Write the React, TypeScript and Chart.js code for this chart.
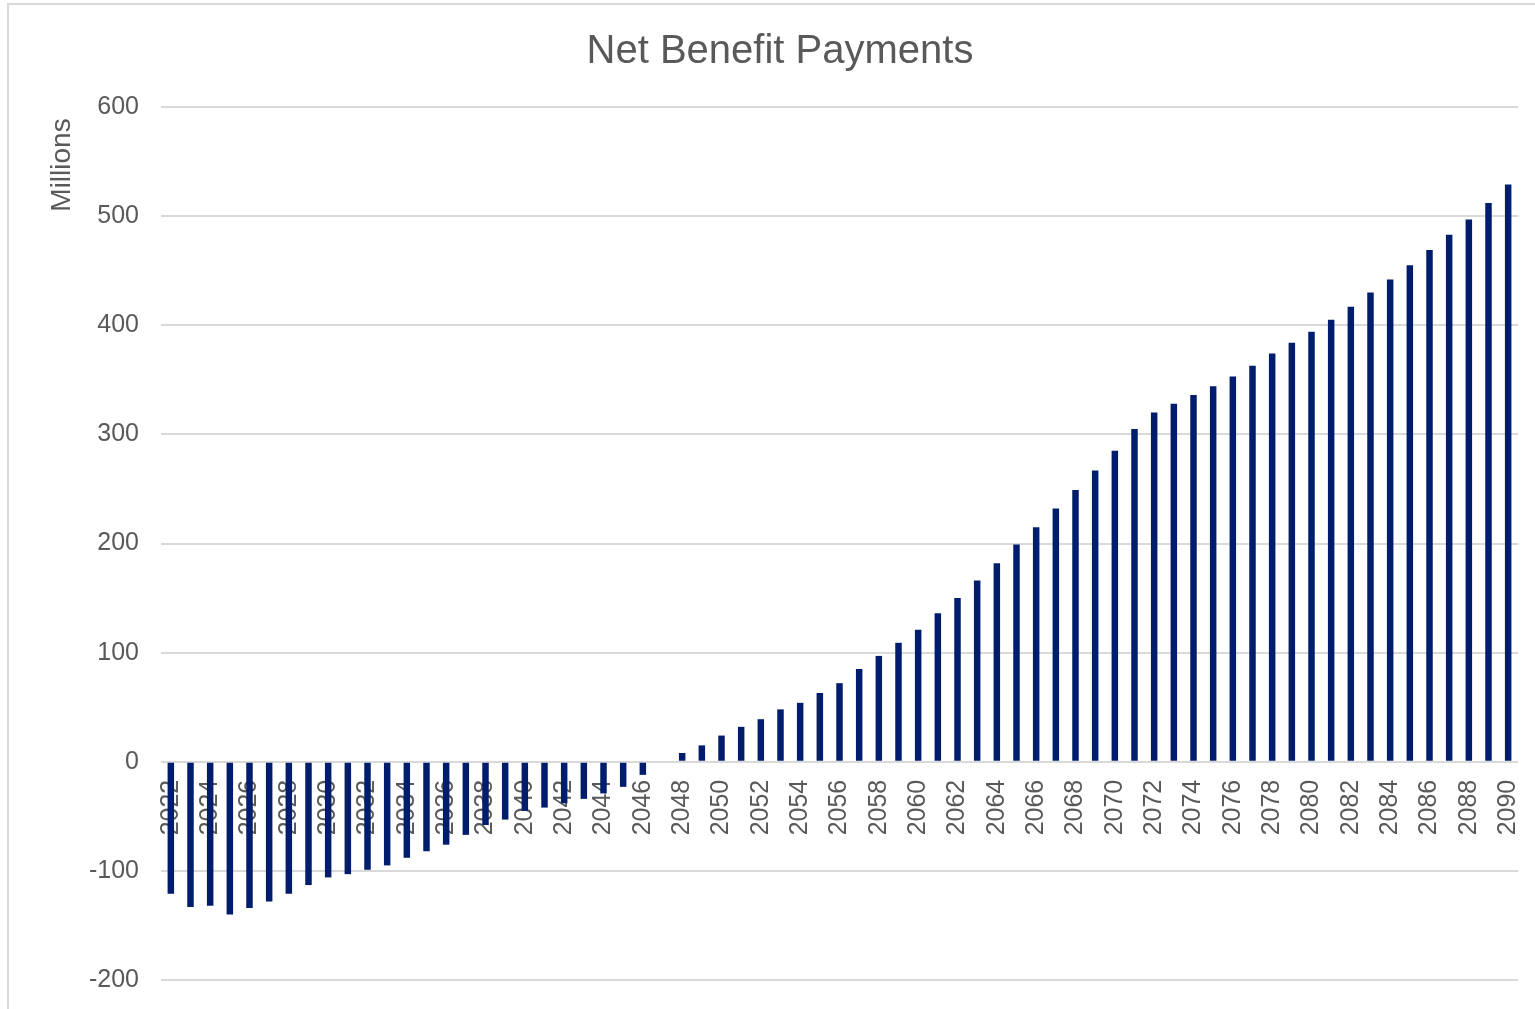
import React, { useEffect, useRef } from "react";
import { Chart, registerables } from "chart.js";

Chart.register(...registerables);

const CHART_TITLE = "Net Benefit Payments";
const Y_AXIS_TITLE = "Millions";

const YEARS = [
  "2022", "2023", "2024", "2025", "2026", "2027", "2028", "2029", "2030", "2031",
  "2032", "2033", "2034", "2035", "2036", "2037", "2038", "2039", "2040", "2041",
  "2042", "2043", "2044", "2045", "2046", "2047", "2048", "2049", "2050", "2051",
  "2052", "2053", "2054", "2055", "2056", "2057", "2058", "2059", "2060", "2061",
  "2062", "2063", "2064", "2065", "2066", "2067", "2068", "2069", "2070", "2071",
  "2072", "2073", "2074", "2075", "2076", "2077", "2078", "2079", "2080", "2081",
  "2082", "2083", "2084", "2085", "2086", "2087", "2088", "2089", "2090",
];

const NET_BENEFIT = [
  -121, -133, -132, -140, -134, -128, -121, -113, -106, -103,
  -99, -95, -88, -82, -76, -67, -58, -53, -45, -42,
  -38, -34, -29, -23, -12, 0, 8, 15, 24, 32,
  39, 48, 54, 63, 72, 85, 97, 109, 121, 136,
  150, 166, 182, 199, 215, 232, 249, 267, 285, 305,
  320, 328, 336, 344, 353, 363, 374, 384, 394, 405,
  417, 430, 442, 455, 469, 483, 497, 512, 529,
];

const Y_MIN = -200;
const Y_MAX = 600;
const Y_STEP = 100;

const FONT = "'Liberation Sans', Arial, sans-serif";
const TEXT_COLOR = "#595959";
const GRID_COLOR = "#d9d9d9";
const BAR_COLOR = "#001c6c";

const CANVAS_W = 1541;
const CANVAS_H = 1026;

const yTitlePlugin = {
  id: "yTitlePlugin",
  afterDraw(chart: any) {
    const { ctx } = chart;
    ctx.save();
    ctx.translate(53, 160);
    ctx.rotate(-Math.PI / 2);
    ctx.font = `28px ${FONT}`;
    ctx.fillStyle = TEXT_COLOR;
    ctx.textAlign = "center";
    ctx.textBaseline = "middle";
    ctx.fillText(Y_AXIS_TITLE, 0, 0);
    ctx.restore();
  },
};

const chartTitlePlugin = {
  id: "chartTitlePlugin",
  afterDraw(chart: any) {
    const { ctx } = chart;
    ctx.save();
    ctx.font = `40px ${FONT}`;
    ctx.fillStyle = TEXT_COLOR;
    ctx.textAlign = "center";
    ctx.textBaseline = "alphabetic";
    ctx.fillText(CHART_TITLE, 771, 58);
    ctx.restore();
  },
};

export default function App() {
  const canvasRef = useRef<HTMLCanvasElement | null>(null);

  useEffect(() => {
    if (!canvasRef.current) return;
    const chart = new Chart(canvasRef.current, {
      type: "bar",
      data: {
        labels: YEARS,
        datasets: [
          {
            label: CHART_TITLE,
            data: NET_BENEFIT,
            backgroundColor: BAR_COLOR,
            borderWidth: 0,
            barPercentage: 0.33,
            categoryPercentage: 1,
          },
        ],
      },
      plugins: [yTitlePlugin, chartTitlePlugin],
      options: {
        animation: false,
        responsive: false,
        maintainAspectRatio: false,
        layout: { padding: { top: 102, right: 32, bottom: 51, left: 0 } },
        plugins: {
          legend: { display: false },
          title: { display: false },
          tooltip: { enabled: false },
        },
        scales: {
          x: {
            position: { y: 0 } as any,
            grid: { display: false, drawTicks: false },
            border: { display: false },
            afterFit: (scale: any) => {
              scale.height = 0;
              scale.paddingLeft = 0;
              scale.paddingRight = 0;
            },
            ticks: {
              autoSkip: false,
              minRotation: 90,
              maxRotation: 90,
              padding: 18,
              color: TEXT_COLOR,
              font: { family: FONT, size: 25 },
              callback: function (_v: any, index: number) {
                return index % 2 === 0 ? YEARS[index] : "";
              },
            },
          },
          y: {
            min: Y_MIN,
            max: Y_MAX,
            afterFit: (scale: any) => {
              scale.width = 152;
            },
            grid: { color: GRID_COLOR, lineWidth: 2, drawTicks: false },
            border: { display: false },
            ticks: {
              stepSize: Y_STEP,
              padding: 22,
              color: TEXT_COLOR,
              font: { family: FONT, size: 25 },
            },
          },
        },
      },
    });
    return () => chart.destroy();
  }, []);

  return (
    <div style={{ position: "fixed", inset: 0, overflow: "hidden", background: "#fff" }}>
      <div
        style={{
          position: "absolute",
          left: 7,
          top: 3,
          width: CANVAS_W + 4,
          height: CANVAS_H + 4,
          border: `2px solid ${GRID_COLOR}`,
          boxSizing: "border-box",
        }}
      >
        <canvas
          ref={canvasRef}
          width={CANVAS_W}
          height={CANVAS_H}
          style={{ display: "block", width: CANVAS_W, height: CANVAS_H }}
        />
      </div>
    </div>
  );
}
